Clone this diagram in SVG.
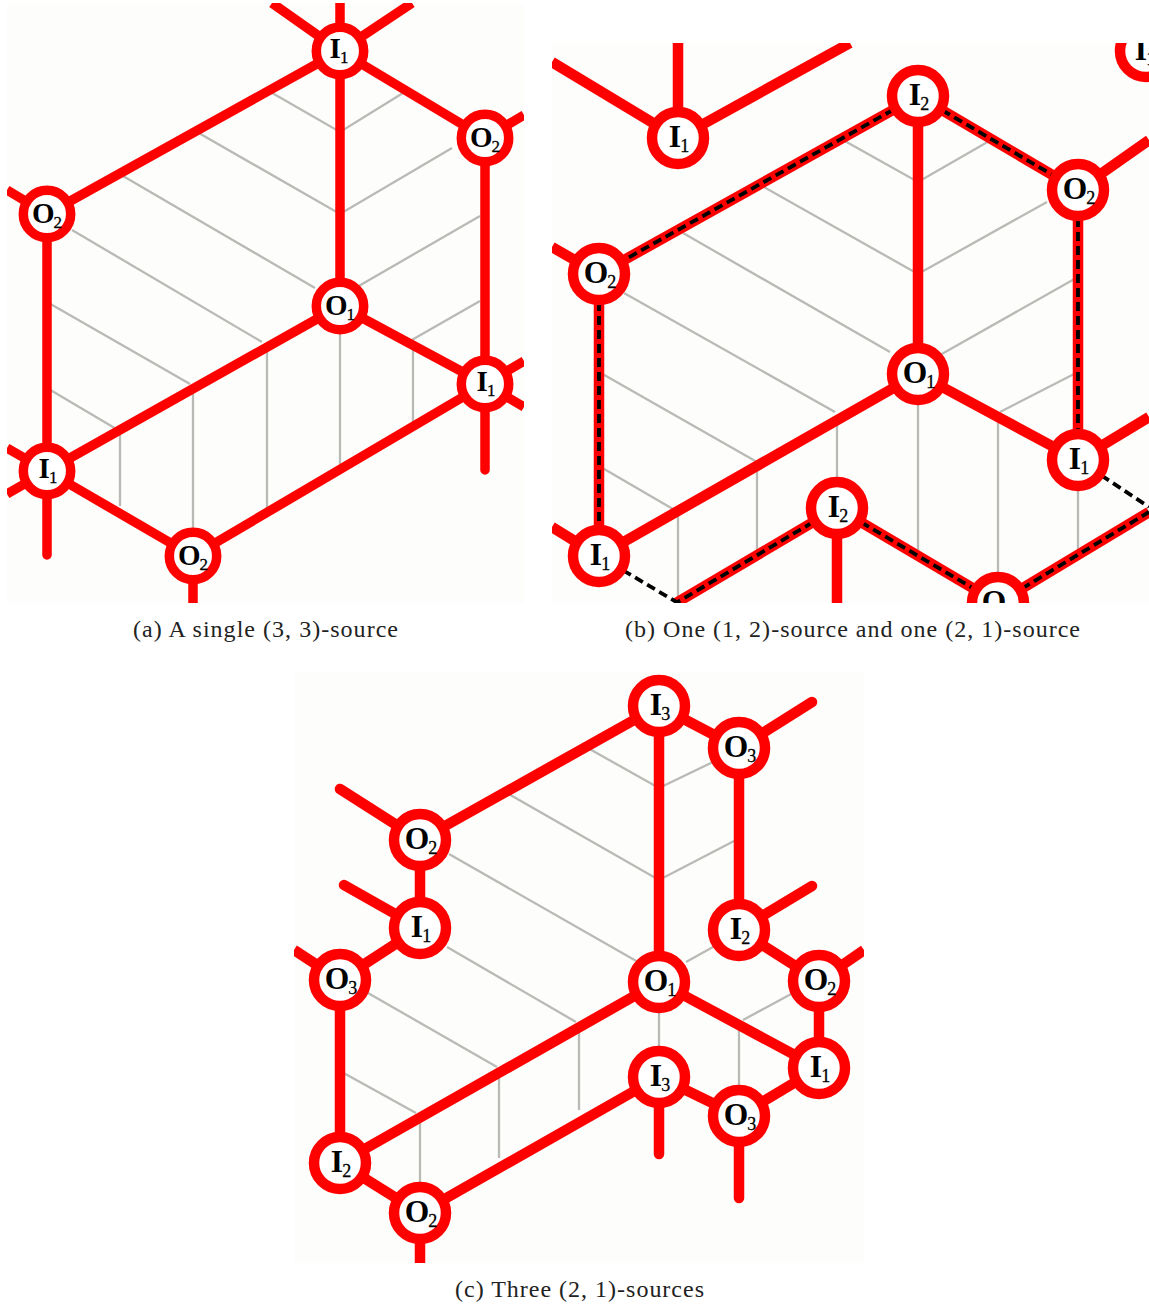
<svg xmlns="http://www.w3.org/2000/svg" width="1149" height="1309" viewBox="0 0 1149 1309">
<style>
.bg{fill:#fdfdfb}
.g{stroke:#b9b9b6;stroke-width:2.3;fill:none}
.r{stroke:#ff0000;stroke-linecap:butt;fill:none}
.c{stroke:#ff0000;stroke-linecap:round;fill:none}
.pa .r,.pa .c{stroke-width:9.5}
.pb .r,.pb .c,.pc .r,.pc .c{stroke-width:10.5}
.d{stroke:#000;stroke-width:3.8;stroke-dasharray:9 5;fill:none}
.n{fill:#fff;stroke:#ff0000}
.pa .n{stroke-width:9.5}
.pb .n,.pc .n{stroke-width:10.5}
.t{font-family:"Liberation Serif","Times New Roman",serif;font-weight:700;fill:#000;text-anchor:middle;transform:translateY(1.2px)}
.pa .t{font-size:29px}
.pb .t,.pc .t{font-size:31.5px}
.s{font-weight:400;stroke:#000;stroke-width:.3}
.pa .s{font-size:17px}
.pb .s,.pc .s{font-size:18px}
.cap{font-family:"Liberation Serif","Times New Roman",serif;font-size:24px;fill:#222}
</style>
<defs>
<clipPath id="ca"><rect x="7" y="3" width="517" height="600"/></clipPath>
<clipPath id="cb"><rect x="552" y="43" width="597" height="560"/></clipPath>
<clipPath id="cc"><rect x="294" y="672" width="570" height="591"/></clipPath>
</defs>
<rect width="1149" height="1309" fill="#fff"/>

<g class="pa" clip-path="url(#ca)">
<rect class="bg" x="7" y="3" width="517" height="600"/>
<path class="g" d="M267 90L340 132L403 93M197 132L340 214L452 148M123 176L315 288M72 230L262 342M47 302L190 384M47 388L118 430M357 287L480 216M410 341L480 301M120 432V506M193 390V530M267 345V510M340 330V466M413 345V422"/>
<g id="a-connectors">
<path class="r" d="M340 51V3M340 51L272 3M340 51L412 3M340 51L47 214M340 51L485 138M340 51V306M485 138L524 115M485 138V384M47 214L7 190M47 214V471M340 306L47 471M340 306L485 384M485 384L524 361M485 384L524 407M47 471L7 448M47 471L7 494M47 471L193 556M485 384L193 556M193 556V603"/>
<path class="c" d="M485 384V470M47 471V555"/>
</g>
<g id="a-i1-top"><circle class="n" cx="340" cy="51" r="23.7"/><text class="t" x="339" y="57">I<tspan class="s" dx="-1" dy="5">1</tspan></text></g>
<g id="a-o2-right"><circle class="n" cx="485" cy="138" r="23.7"/><text class="t" x="485" y="146">O<tspan class="s" dx="-1" dy="5">2</tspan></text></g>
<g id="a-o2-left"><circle class="n" cx="47" cy="214" r="23.7"/><text class="t" x="47" y="222">O<tspan class="s" dx="-1" dy="5">2</tspan></text></g>
<g id="a-o1"><circle class="n" cx="340" cy="306" r="23.7"/><text class="t" x="340" y="314">O<tspan class="s" dx="-1" dy="5">1</tspan></text></g>
<g id="a-i1-right"><circle class="n" cx="485" cy="384" r="23.7"/><text class="t" x="486" y="390">I<tspan class="s" dx="-1" dy="5">1</tspan></text></g>
<g id="a-i1-left"><circle class="n" cx="47" cy="471" r="23.7"/><text class="t" x="48" y="477">I<tspan class="s" dx="-1" dy="5">1</tspan></text></g>
<g id="a-o2-bottom"><circle class="n" cx="193" cy="556" r="23.7"/><text class="t" x="193" y="564">O<tspan class="s" dx="-1" dy="5">2</tspan></text></g>
</g>
<text class="cap" x="133" y="637" textLength="265">(a) A single (3, 3)-source</text>

<g class="pb" clip-path="url(#cb)">
<rect class="bg" x="552" y="43" width="597" height="560"/>
<path class="g" d="M843 140L918 182L991 140M762 186L918 274L1047 202M683 233L890 352M624 293L835 412M599 372L757 462M599 466L678 512M940 355L1078 277M1000 412L1078 372M678 512V600M757 465V556M837 420V482M918 400V560M998 415V575M1078 485V550"/>
<g id="b-connectors">
<path class="r" d="M678 138V43M678 138L552 62M678 138L850 43M599 274L552 247M918 96L599 274M918 96L1078 190M1078 190L1149 140M1078 190V460M599 274V556M918 96V374M918 374L599 556M918 374L1078 460M1078 460L1149 417M599 556L552 527M837 508L676 603M837 508L998 603M998 603L1149 512M837 508V603"/>
<path class="d" d="M918 96L599 274M918 96L1078 190M1078 190V460M599 274V556M837 508L676 603M837 508L998 603M998 603L1149 512M599 556L678 603M1078 460L1149 507"/>
</g>
<g id="b-i1-top"><circle class="n" cx="678" cy="138" r="26"/><text class="t" x="679" y="145.500">I<tspan class="s" dx="-1" dy="5">1</tspan></text></g>
<g id="b-i1-corner"><circle class="n" cx="1146" cy="51" r="26"/><text class="t" x="1145" y="58.500">I<tspan class="s" dx="-1" dy="5">1</tspan></text></g>
<g id="b-i2-top"><circle class="n" cx="918" cy="96" r="26"/><text class="t" x="919" y="103.500">I<tspan class="s" dx="-1" dy="5">2</tspan></text></g>
<g id="b-o2-right"><circle class="n" cx="1078" cy="190" r="26"/><text class="t" x="1079" y="198">O<tspan class="s" dx="-1" dy="5">2</tspan></text></g>
<g id="b-o2-left"><circle class="n" cx="599" cy="274" r="26"/><text class="t" x="600" y="282">O<tspan class="s" dx="-1" dy="5">2</tspan></text></g>
<g id="b-o1"><circle class="n" cx="918" cy="374" r="26"/><text class="t" x="919" y="382">O<tspan class="s" dx="-1" dy="5">1</tspan></text></g>
<g id="b-i1-right"><circle class="n" cx="1078" cy="460" r="26"/><text class="t" x="1079" y="467.500">I<tspan class="s" dx="-1" dy="5">1</tspan></text></g>
<g id="b-i1-left"><circle class="n" cx="599" cy="556" r="26"/><text class="t" x="600" y="563.500">I<tspan class="s" dx="-1" dy="5">1</tspan></text></g>
<g id="b-i2-mid"><circle class="n" cx="837" cy="508" r="26"/><text class="t" x="838" y="515.500">I<tspan class="s" dx="-1" dy="5">2</tspan></text></g>
<g id="b-o-bottom"><circle class="n" cx="998" cy="603" r="26"/><text class="t" x="998" y="611">O<tspan class="s" dx="-1" dy="5">1</tspan></text></g>
</g>
<text class="cap" x="625" y="637" textLength="455">(b) One (1, 2)-source and one (2, 1)-source</text>

<g class="pc" clip-path="url(#cc)">
<rect class="bg" x="294" y="672" width="570" height="591"/>
<path class="g" d="M586 747L659 788L713 762M507 793L659 880L736 840M449 854L638 962M447 947L576 1022M368 993L497 1067M340 1071L416 1113M686 962L713 947M743 1020L793 993M420 1118V1190M499 1072V1158M579 1028V1110M659 1005V1050M739 1030V1090"/>
<g id="c-connectors">
<path class="r" d="M659 706L420 840M659 706L739 748M659 706V982M739 748V930M420 840V928M420 928L340 980M340 980L294 950M340 980V1163M739 930L819 981M819 981L864 950M819 981V1068M659 982L819 1068M659 982L340 1163M819 1068L739 1116M739 1116L659 1077M659 1077L420 1213M340 1163L420 1213M420 1213V1263"/>
<path class="c" d="M739 748L812 702M420 840L340 789M420 928L344 885M739 930L812 886M739 1116V1198M659 1077V1154"/>
</g>
<g id="c-i3-top"><circle class="n" cx="659" cy="706" r="26"/><text class="t" x="660" y="713.500">I<tspan class="s" dx="-1" dy="5">3</tspan></text></g>
<g id="c-o3-top"><circle class="n" cx="739" cy="748" r="26"/><text class="t" x="740" y="756">O<tspan class="s" dx="-1" dy="5">3</tspan></text></g>
<g id="c-o2-left"><circle class="n" cx="420" cy="840" r="26"/><text class="t" x="421" y="848">O<tspan class="s" dx="-1" dy="5">2</tspan></text></g>
<g id="c-i1-left"><circle class="n" cx="420" cy="928" r="26"/><text class="t" x="421" y="935.500">I<tspan class="s" dx="-1" dy="5">1</tspan></text></g>
<g id="c-i2-right"><circle class="n" cx="739" cy="930" r="26"/><text class="t" x="740" y="937.500">I<tspan class="s" dx="-1" dy="5">2</tspan></text></g>
<g id="c-o3-left"><circle class="n" cx="340" cy="980" r="26"/><text class="t" x="341" y="988">O<tspan class="s" dx="-1" dy="5">3</tspan></text></g>
<g id="c-o1"><circle class="n" cx="659" cy="982" r="26"/><text class="t" x="660" y="990">O<tspan class="s" dx="-1" dy="5">1</tspan></text></g>
<g id="c-o2-right"><circle class="n" cx="819" cy="981" r="26"/><text class="t" x="820" y="989">O<tspan class="s" dx="-1" dy="5">2</tspan></text></g>
<g id="c-i1-right"><circle class="n" cx="819" cy="1068" r="26"/><text class="t" x="820" y="1075.500">I<tspan class="s" dx="-1" dy="5">1</tspan></text></g>
<g id="c-i3-low"><circle class="n" cx="659" cy="1077" r="26"/><text class="t" x="660" y="1084.500">I<tspan class="s" dx="-1" dy="5">3</tspan></text></g>
<g id="c-o3-low"><circle class="n" cx="739" cy="1116" r="26"/><text class="t" x="740" y="1124">O<tspan class="s" dx="-1" dy="5">3</tspan></text></g>
<g id="c-i2-left"><circle class="n" cx="340" cy="1163" r="26"/><text class="t" x="341" y="1170.500">I<tspan class="s" dx="-1" dy="5">2</tspan></text></g>
<g id="c-o2-bottom"><circle class="n" cx="420" cy="1213" r="26"/><text class="t" x="421" y="1221">O<tspan class="s" dx="-1" dy="5">2</tspan></text></g>
</g>
<text class="cap" x="455" y="1297" textLength="249">(c) Three (2, 1)-sources</text>
</svg>
